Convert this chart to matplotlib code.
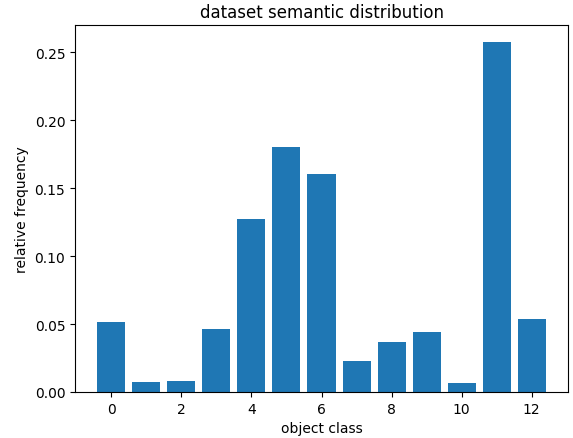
import matplotlib.pyplot as plt

classes = list(range(13))
freqs = [0.0513, 0.0073, 0.0080, 0.0462, 0.1272, 0.1804, 0.1606,
         0.0227, 0.0367, 0.0440, 0.0066, 0.2572, 0.0535]

fig = plt.figure(figsize=(5.73, 4.39), dpi=100)
ax = fig.add_axes([75 / 573, 1 - 393 / 439, 493 / 573, 367 / 439])
ax.bar(classes, freqs)
ax.set_title("dataset semantic distribution")
ax.set_xlabel("object class")
ax.set_ylabel("relative frequency")
fig.savefig("out.png", dpi=100)
plt.close(fig)
